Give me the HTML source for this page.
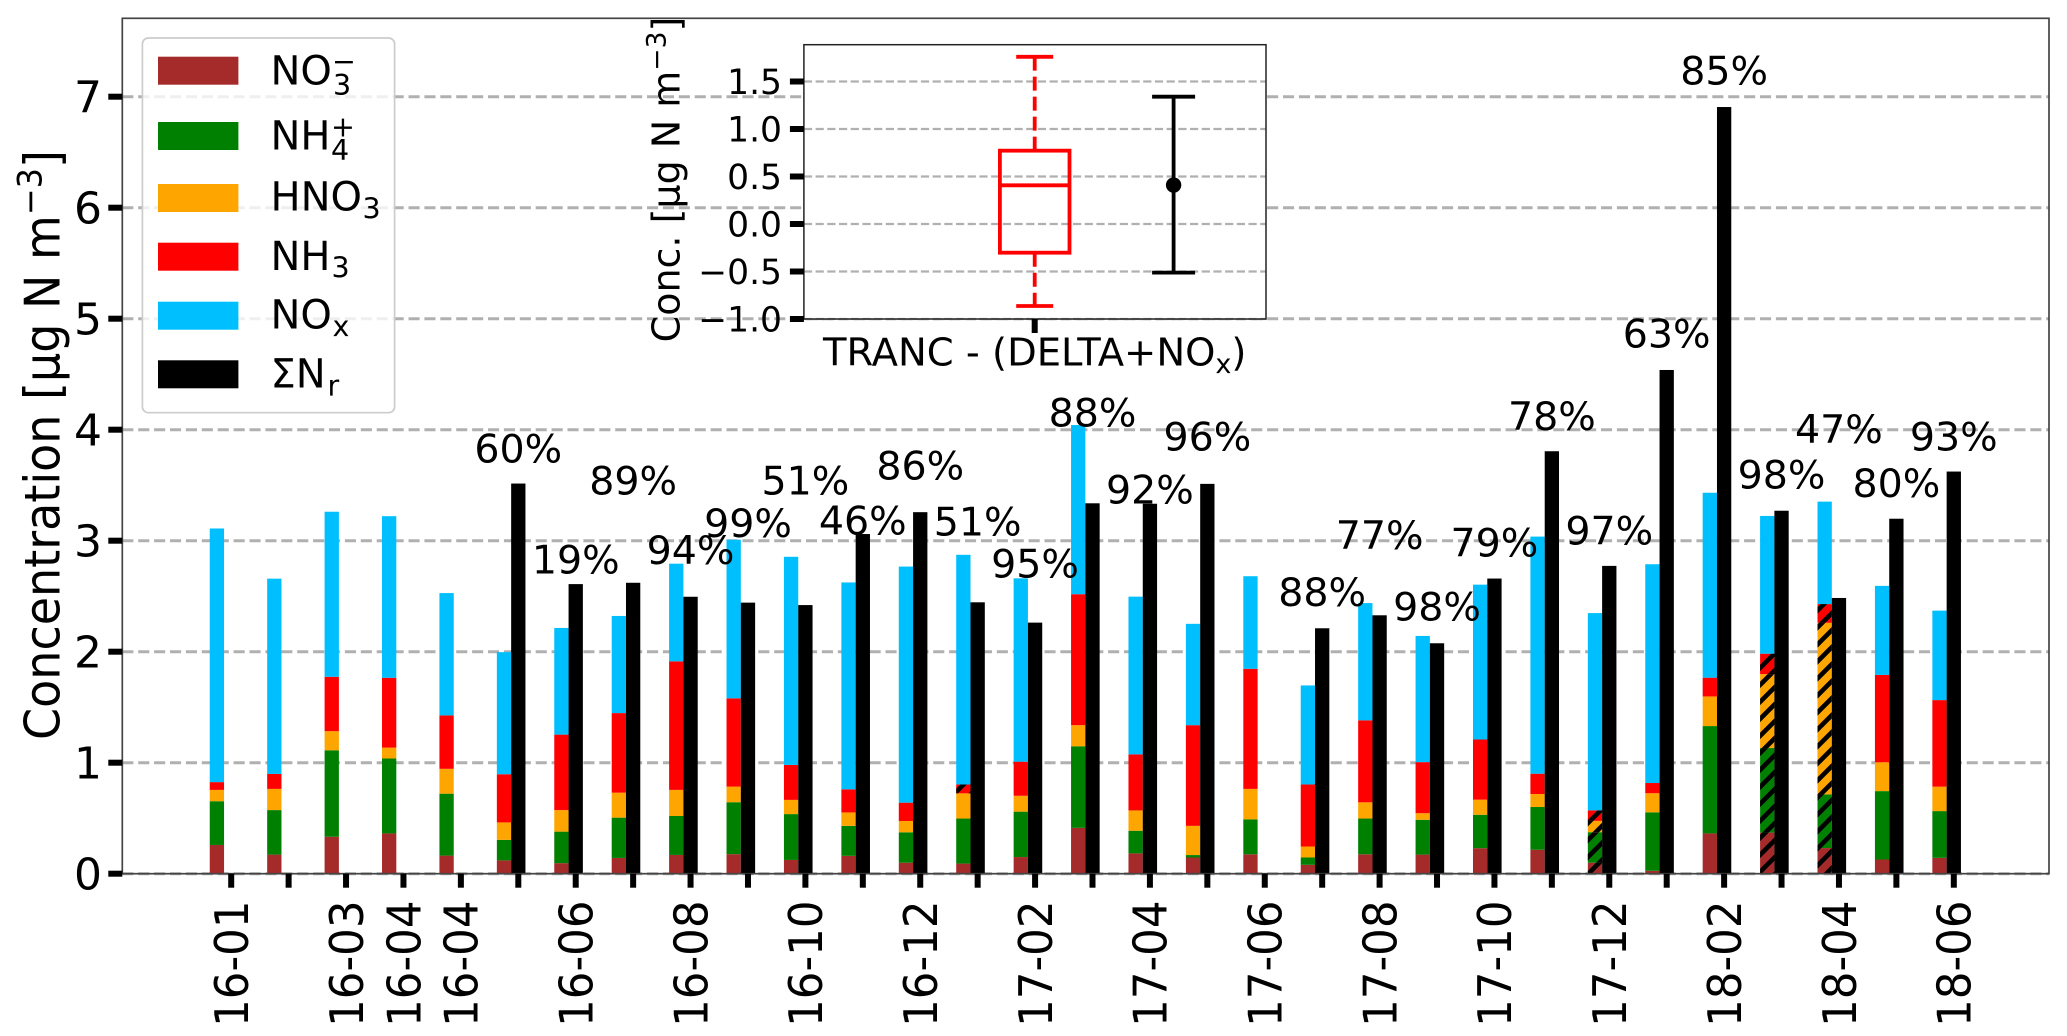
<!DOCTYPE html>
<html lang="en">
<head>
<meta charset="utf-8">
<title>Reactive nitrogen concentrations</title>
<style>
html,body{margin:0;padding:0;background:#fff;}
svg{display:block;}
text{font-family:"DejaVu Sans","Liberation Sans",sans-serif;fill:#000;}
</style>
</head>
<body>
<svg id="chart" xmlns="http://www.w3.org/2000/svg" width="2067" height="1036" viewBox="0 0 2067 1036">
  <defs>
    <pattern id="hatch" patternUnits="userSpaceOnUse" width="17" height="17" patternTransform="translate(14,0)">
      <line x1="-4" y1="21" x2="21" y2="-4" stroke="#000" stroke-width="4.6"/>
      <line x1="-4" y1="4" x2="4" y2="-4" stroke="#000" stroke-width="4.6"/>
      <line x1="13" y1="21" x2="21" y2="13" stroke="#000" stroke-width="4.6"/>
    </pattern>
  </defs>
  <rect x="0" y="0" width="2067" height="1036" fill="#fff"/>
  <g id="main-grid"></g>
  <g id="main-bars"></g>
  <rect x="122.3" y="18.3" width="1926.7" height="855.4" fill="none" stroke="#444" stroke-width="1.7"/>
  <g id="main-ticks"></g>
  <g id="pct-labels"></g>

  <text transform="translate(59.4,445) rotate(-90) scale(1,1.06)" text-anchor="middle" font-size="46">Concentration [μg N m<tspan font-size="32" dy="-17">−3</tspan><tspan dy="17">]</tspan></text>

  <g>
    <rect x="142.4" y="38" width="252.2" height="374.7" rx="6" ry="6" fill="#fff" fill-opacity="0.8" stroke="#ccc" stroke-width="1.7"/>
    <rect x="158" y="56.7" width="80.4" height="28" fill="#a52a2a"/>
    <text x="270.5" y="84.3" font-size="40">NO</text>
    <text x="333" y="95" font-size="28.5">3</text>
    <text x="332" y="71" font-size="28.5">−</text>
    <rect x="158" y="122" width="80.4" height="28" fill="#008000"/>
    <text x="270.5" y="149.5" font-size="40">NH</text>
    <text x="331" y="160" font-size="28.5">4</text>
    <text x="331" y="136.5" font-size="28.5">+</text>
    <rect x="158" y="184" width="80.4" height="28" fill="#ffa500"/>
    <text x="270.5" y="210.7" font-size="40">HNO</text>
    <text x="362.5" y="218.3" font-size="28.5">3</text>
    <rect x="158" y="242.7" width="80.4" height="28" fill="#ff0000"/>
    <text x="270.5" y="270" font-size="40">NH</text>
    <text x="331.5" y="277.6" font-size="28.5">3</text>
    <rect x="158" y="301.7" width="80.4" height="28" fill="#00bfff"/>
    <text x="270.5" y="328.3" font-size="40">NO</text>
    <text x="332.5" y="336" font-size="28.5">x</text>
    <rect x="158" y="360.3" width="80.4" height="28" fill="#000"/>
    <text x="270.5" y="387.7" font-size="40">ΣN</text>
    <text x="327.5" y="395.3" font-size="28.5">r</text>
  </g>

  <g>
    <rect x="803.9" y="44.7" width="462.1" height="274.3" fill="#fff"/>
    <g id="inset-grid"></g>
    <g id="inset-marks"></g>
    <rect x="803.9" y="44.7" width="462.1" height="274.3" fill="none" stroke="#222" stroke-width="1.5"/>
    <g id="inset-ticks"></g>
    <text x="1034.7" y="365.7" text-anchor="middle" font-size="38.5">TRANC - (DELTA+NO<tspan font-size="27" dy="7.5">x</tspan><tspan dy="-7.5">)</tspan></text>
    <text transform="translate(679.4,179.5) rotate(-90)" text-anchor="middle" font-size="38">Conc. [μg N m<tspan font-size="26.6" dy="-14">−3</tspan><tspan dy="14">]</tspan></text>
  </g>

<script>
// ---- Main chart data (μg N m-3) ----
const categories = ["16-01","","16-03","16-04","16-04","","16-06","","16-08","","16-10","","16-12","","17-02","","17-04","","17-06","","17-08","","17-10","","17-12","","18-02","","18-04","","18-06"];
const no3 = [.259,.172,.333,.363,.163,.12,.095,.142,.169,.176,.124,.161,.099,.091,.15,.413,.183,.146,.175,.08,.175,.172,.23,.216,.099,.026,.363,.37,.231,.128,.143];
const nh4 = [.394,.401,.779,.675,.558,.185,.284,.363,.351,.468,.413,.27,.274,.406,.409,.735,.204,.022,.315,.066,.322,.314,.301,.385,.275,.527,.967,.762,.483,.616,.421];
const hno3 = [.102,.191,.172,.098,.224,.157,.194,.225,.235,.141,.128,.121,.102,.227,.143,.19,.183,.263,.274,.099,.146,.059,.136,.117,.102,.172,.267,.666,1.546,.26,.22];
const nh3 = [.07,.135,.49,.629,.481,.434,.68,.717,1.158,.795,.315,.208,.165,.08,.307,1.18,.505,.907,1.082,.559,.739,.46,.542,.183,.095,.092,.169,.184,.169,.787,.78];
const nox = [2.285,1.759,1.487,1.456,1.102,1.1,.961,.875,.88,1.429,1.875,1.864,2.127,2.069,1.652,1.524,1.421,.913,.834,.892,1.056,1.137,1.395,2.136,1.777,1.971,1.666,1.241,.923,.802,.806];
const sumNr = [null,null,null,null,null,3.515,2.609,2.621,2.495,2.442,2.42,3.06,3.257,2.445,2.262,3.337,3.333,3.512,null,2.211,2.328,2.076,2.659,3.806,2.773,4.538,6.907,3.27,2.484,3.198,3.623];
const recovery = [null,null,null,null,null,60,19,89,94,99,51,46,86,51,95,88,92,96,null,88,77,98,79,78,97,63,85,98,47,80,93];
const labelLift = [0,0,0,0,0,.32,.228,.926,.425,.725,1.128,.129,.426,.733,.536,.822,.133,.434,0,.331,.73,.336,.329,.323,.325,.333,.334,.333,1.528,.327,.323];
const hatchedFully = [24,27,28];
const hatchedRedOnly = [13];
const yTicks = [0,1,2,3,4,5,6,7];

// ---- Inset data ----
const boxStats = {low:-.863, q1:-.302, median:.407, q3:.772, high:1.76};
const errorStats = {low:-.512, mean:.41, high:1.34};
const insetTicks = [-1,-.5,0,.5,1,1.5];
const insetTickLabels = ["−1.0","−0.5","0.0","0.5","1.0","1.5"];

const seriesList = [no3, nh4, hno3, nh3, nox];
const seriesColors = ["#a52a2a","#008000","#ffa500","#ff0000","#00bfff"];
const seriesNames = ["no3","nh4","hno3","nh3","nox"];

const NS = "http://www.w3.org/2000/svg";
function mk(parent, tag, attrs){
  const e = document.createElementNS(NS, tag);
  for (const k in attrs) e.setAttribute(k, attrs[k]);
  parent.appendChild(e);
  return e;
}
const xScale = i => 231.2 + 57.42 * i;
const yScale = v => 873.7 - 111 * v;
const insetX = p => 1034.7 + 138.9 * (p - 1);
const insetY = v => 224 - 95 * v;
const barW = 14.3;

const gridG = document.getElementById("main-grid");
const barsG = document.getElementById("main-bars");
const ticksG = document.getElementById("main-ticks");
const pctG = document.getElementById("pct-labels");

yTicks.forEach(function(t){
  const g = mk(gridG, "line", {x1:122.3, x2:2049, y1:yScale(t), y2:yScale(t), stroke:"#b0b0b0", "stroke-width":3, "stroke-dasharray":"11.1 4.8"});
  
  
  const m = mk(ticksG, "rect", {x:108.3, y:yScale(t)-3, width:14, height:6, fill:"#000"});
  
  
  const l = mk(ticksG, "text", {x:102, y:yScale(t)+16, "text-anchor":"end", "font-size":44});
  l.textContent = String(t);
  
  
});

categories.forEach(function(cat, i){
  const tx = xScale(i);
  const left = tx - barW/2 - barW;
  let base = 0;
  seriesList.forEach(function(arr, s){
    const top = base + arr[i];
    const r = mk(barsG, "rect", {x:left, y:yScale(top), width:barW, height:yScale(base)-yScale(top), fill:seriesColors[s]});
    
    
    const hatchIt = (hatchedFully.includes(i) && s < 4) || (hatchedRedOnly.includes(i) && s === 3);
    if (hatchIt) {
      const h = mk(barsG, "rect", {x:left, y:yScale(top), width:barW, height:yScale(base)-yScale(top), fill:"url(#hatch)"});
      
      
    }
    base = top;
  });
  if (sumNr[i] !== null) {
    const b = mk(barsG, "rect", {x:tx-barW/2, y:yScale(sumNr[i]), width:barW, height:yScale(0)-yScale(sumNr[i]), fill:"#000"});
    
    
    const p = mk(pctG, "text", {x:tx, y:yScale(sumNr[i]+labelLift[i])+14.6, "text-anchor":"middle", "font-size":39.5});
    p.textContent = recovery[i] + "%";
    
    
  }
  const tk = mk(ticksG, "rect", {x:tx-3, y:873.7, width:6, height:14, fill:"#000"});
  
  
  if (cat) {
    const l = mk(ticksG, "text", {transform:"translate("+(tx+16.8)+",900.5) rotate(-90) scale(1,1.06)", "text-anchor":"end", "font-size":43.5});
    l.textContent = cat;
    
    
  }
});

// ---- Inset ----
const igrid = document.getElementById("inset-grid");
const imarks = document.getElementById("inset-marks");
const iticks = document.getElementById("inset-ticks");
insetTicks.forEach(function(t, i){
  const g = mk(igrid, "line", {x1:803.9, x2:1266, y1:insetY(t), y2:insetY(t), stroke:"#b0b0b0", "stroke-width":2.2, "stroke-dasharray":"8.2 3.5"});
  
  
  const m = mk(iticks, "rect", {x:789.9, y:insetY(t)-3, width:14, height:6, fill:"#000"});
  
  
  const l = mk(iticks, "text", {x:782, y:insetY(t)+12.5, "text-anchor":"end", "font-size":34.5});
  l.textContent = insetTickLabels[i];
  
  
});
const itick = mk(iticks, "rect", {x:insetX(1)-3, y:319, width:6, height:14, fill:"#000"});



const bx = insetX(1);
const boxW = 69.6;
const capW = 37;
const wh1 = mk(imarks, "line", {x1:bx, x2:bx, y1:insetY(boxStats.q3), y2:insetY(boxStats.high), stroke:"#f00", "stroke-width":3.8, "stroke-dasharray":"14 6"});


const wh2 = mk(imarks, "line", {x1:bx, x2:bx, y1:insetY(boxStats.q1), y2:insetY(boxStats.low), stroke:"#f00", "stroke-width":3.8, "stroke-dasharray":"14 6"});


const cp1 = mk(imarks, "line", {x1:bx-capW/2, x2:bx+capW/2, y1:insetY(boxStats.high), y2:insetY(boxStats.high), stroke:"#f00", "stroke-width":3.8});


const cp2 = mk(imarks, "line", {x1:bx-capW/2, x2:bx+capW/2, y1:insetY(boxStats.low), y2:insetY(boxStats.low), stroke:"#f00", "stroke-width":3.8});


const bxr = mk(imarks, "rect", {x:bx-boxW/2, y:insetY(boxStats.q3), width:boxW, height:insetY(boxStats.q1)-insetY(boxStats.q3), fill:"none", stroke:"#f00", "stroke-width":3.8});


const med = mk(imarks, "line", {x1:bx-boxW/2, x2:bx+boxW/2, y1:insetY(boxStats.median), y2:insetY(boxStats.median), stroke:"#f00", "stroke-width":3.8});



const ex = insetX(2);
const eCap = 43;
const ev = mk(imarks, "line", {x1:ex, x2:ex, y1:insetY(errorStats.high), y2:insetY(errorStats.low), stroke:"#000", "stroke-width":3.8});


const e1 = mk(imarks, "line", {x1:ex-eCap/2, x2:ex+eCap/2, y1:insetY(errorStats.high), y2:insetY(errorStats.high), stroke:"#000", "stroke-width":3.8});


const e2 = mk(imarks, "line", {x1:ex-eCap/2, x2:ex+eCap/2, y1:insetY(errorStats.low), y2:insetY(errorStats.low), stroke:"#000", "stroke-width":3.8});


const ec = mk(imarks, "circle", {cx:ex, cy:insetY(errorStats.mean), r:7.7, fill:"#000"});


</script>
</svg>
</body>
</html>
